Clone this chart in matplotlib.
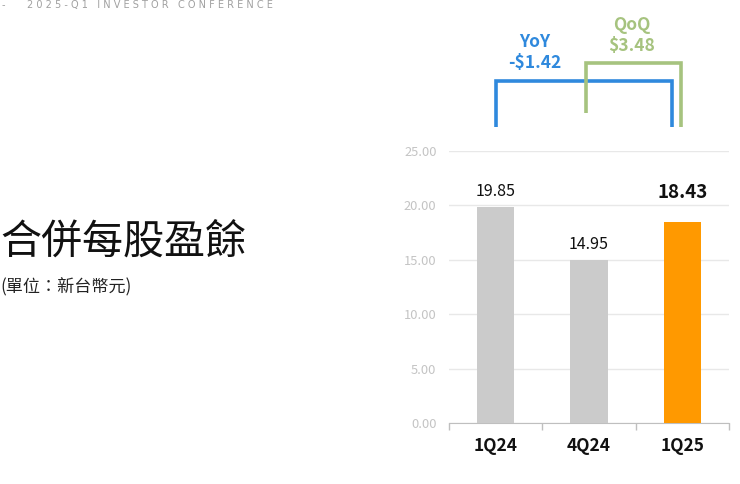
import matplotlib.pyplot as plt

plt.rcParams['font.family'] = ['Noto Sans CJK TC', 'DejaVu Sans']

quarters = ['1Q24', '4Q24', '1Q25']
eps = [19.85, 14.95, 18.43]
bar_colors = ['#cbcbcb', '#cbcbcb', '#ff9900']
yticks = [0, 5, 10, 15, 20, 25]

yoy_label = 'YoY\n-$1.42'
qoq_label = 'QoQ\n$3.48'

fig = plt.figure(figsize=(7.4, 4.84), dpi=100)
ax = fig.add_axes([449 / 740, 61 / 484, 280 / 740, 272 / 484])

x = list(range(len(quarters)))
ax.bar(x, eps, width=0.4, color=bar_colors, zorder=3)
ax.set_xlim(-0.5, 2.5)
ax.set_ylim(0, 25)

ax.set_yticks(yticks)
ax.set_yticklabels([f'{v:.2f}' for v in yticks], color='#c4c4c4', fontsize=9.3)
ax.tick_params(axis='y', length=0, pad=9)
ax.grid(axis='y', color='#e8e8e8', linewidth=1, zorder=0)

# category labels, ticks between categories like Excel
ax.set_xticks(x)
ax.set_xticklabels(quarters, fontsize=12.5, fontweight='bold', color='#111111')
ax.tick_params(axis='x', length=0, pad=10)
ax.set_xticks([-0.5, 0.5, 1.5, 2.5], minor=True)
ax.tick_params(axis='x', which='minor', length=5, color='#bfbfbf', width=1)

for s in ['top', 'right', 'left']:
    ax.spines[s].set_visible(False)
ax.spines['bottom'].set_color('#bfbfbf')

# value labels
for i, v in enumerate(eps):
    if i == 2:
        ax.annotate(f'{v:.2f}', (i, v), xytext=(0, 21.5), textcoords='offset points',
                    ha='center', va='center', fontsize=13.5, fontweight='bold', color='#111111')
    else:
        ax.annotate(f'{v:.2f}', (i, v), xytext=(0, 11.5), textcoords='offset points',
                    ha='center', va='center', fontsize=11.5, color='#111111')

# YoY / QoQ brackets
blue = '#2f89dd'
green = '#a6c37f'
ax.plot([0, 0, 1.89, 1.89], [27.2, 31.4, 31.4, 27.2], color=blue, lw=2.6,
        clip_on=False, solid_joinstyle='miter', solid_capstyle='butt')
ax.plot([0.97, 0.97, 1.99, 1.99], [28.5, 33.1, 33.1, 27.2], color=green, lw=2.6,
        clip_on=False, solid_joinstyle='miter', solid_capstyle='butt')
ax.text(0.42, 34.05, yoy_label, ha='center', va='center', fontsize=12.5,
        fontweight='bold', color=blue, linespacing=1.25, clip_on=False)
ax.text(1.46, 35.6, qoq_label, ha='center', va='center', fontsize=12.5,
        fontweight='bold', color=green, linespacing=1.25, clip_on=False)

# slide text
fig.text(0.0, 1 - 242 / 484, '合併每股盈餘', fontsize=29.5, ha='left', va='center', color='#111111')
fig.text(0.0, 1 - 287 / 484, '(單位：新台幣元)', fontsize=12.3, ha='left', va='center', color='#222222')
fig.text(0.002, 1 - 5 / 484, '-', fontsize=7, ha='left', va='center', color='#a0a0a0',
         family='DejaVu Sans')
fig.text(27 / 740, 1 - 5 / 484,
         ' '.join('2025-Q1') + '   ' + ' '.join('INVESTOR') + '   ' + ' '.join('CONFERENCE'),
         fontsize=7, ha='left', va='center', color='#a0a0a0', family='DejaVu Sans')

fig.savefig('out.png', dpi=100)
